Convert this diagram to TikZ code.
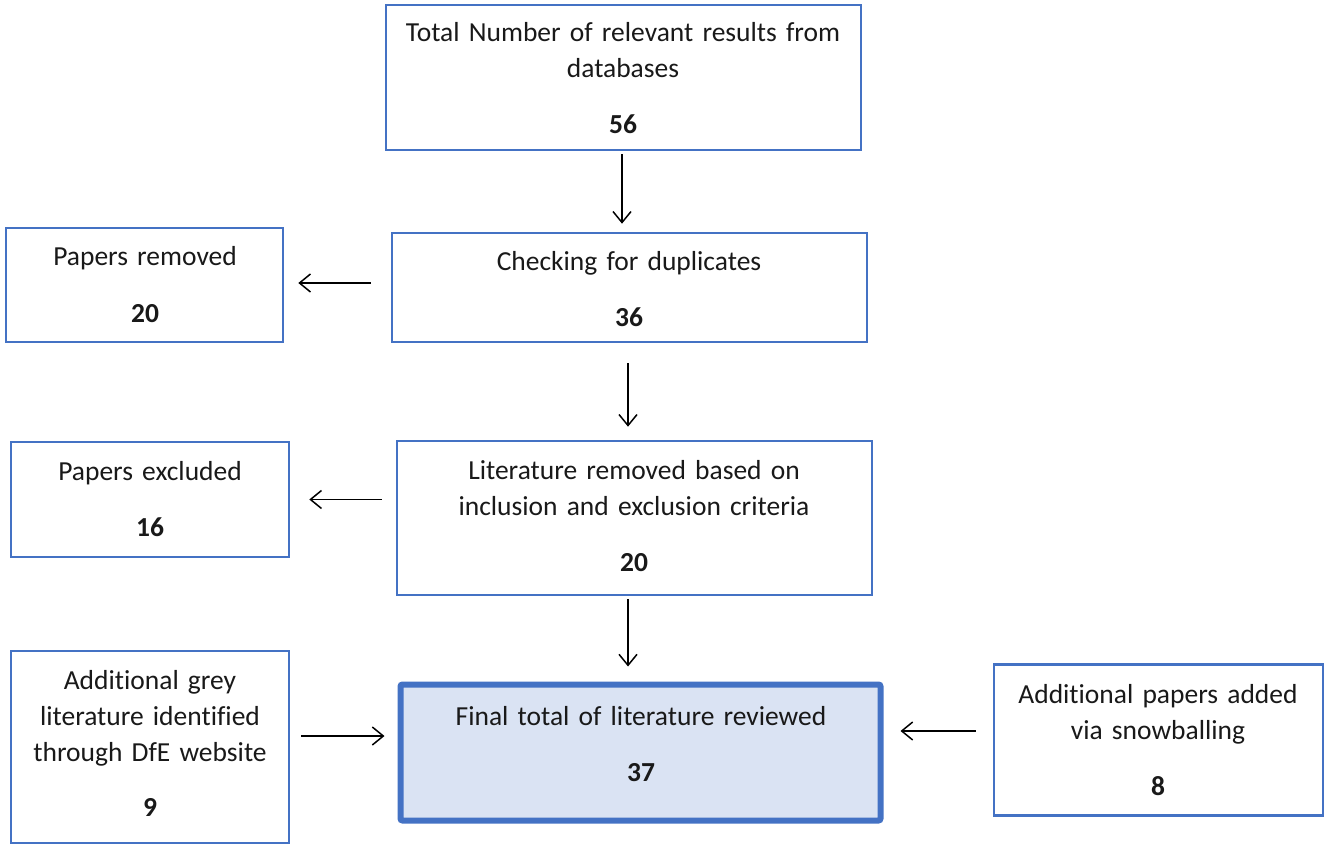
\documentclass[tikz,border=0pt]{standalone}
\usepackage{fontspec}
\setmainfont{Carlito}[Ligatures=NoCommon]
\usetikzlibrary{arrows.meta}
\definecolor{boxblue}{HTML}{4472C4}
\definecolor{boxfill}{HTML}{DAE3F3}
\begin{document}
\begin{tikzpicture}[x=1pt,y=-1pt,
  every node/.style={font=\fontsize{27.5}{36}\selectfont, text=black!90},
  stage/.style={draw=boxblue, line width=2.6pt, rectangle, inner sep=0pt},
  finalbox/.style={draw=boxblue, fill=boxfill, line width=6pt, rectangle, rounded corners=2pt, inner sep=0pt},
  label/.style={align=center, anchor=base, inner sep=0pt},
  arr/.style={line width=1.5pt, -{Straight Barb[length=11pt,width=18pt,line width=1.5pt]}}]
\useasboundingbox (0,0) rectangle (1326,845);

% boxes
\node[stage, minimum width=475pt, minimum height=145pt] (top) at (623.5,77.5) {};
\node[stage, minimum width=475pt, minimum height=109pt] (dup) at (629.5,287.5) {};
\node[stage, minimum width=277pt, minimum height=114pt] (rem) at (144.5,285) {};
\node[stage, minimum width=475pt, minimum height=154pt] (lit) at (634.5,518) {};
\node[stage, minimum width=278pt, minimum height=115pt] (exc) at (150,499.5) {};
\node[stage, minimum width=278pt, minimum height=192pt] (grey) at (150,747) {};
\node[finalbox, minimum width=480pt, minimum height=136pt] (final) at (640.5,752.5) {};
\node[stage, minimum width=329pt, minimum height=151pt] (snow) at (1158.5,740) {};

% texts
\node[label, text width=470pt] (ttop) at (623,42) {Total Number of relevant results from\\databases\\[20pt]\textbf{56}};
\node[label, text width=470pt] (tdup) at (629,271) {Checking for duplicates\\[20pt]\textbf{36}};
\node[label, text width=270pt] (trem) at (145,266) {Papers removed\\[20pt]\textbf{20}};
\node[label, text width=470pt] (tlit) at (634,479) {Literature removed based on\\inclusion and exclusion criteria\\[20pt]\textbf{20}};
\node[label, text width=270pt] (texc) at (150,480) {Papers excluded\\[20pt]\textbf{16}};
\node[label, text width=270pt] (tgrey) at (150,689) {Additional grey\\literature identified\\through DfE website\\[19pt]\textbf{9}};
\node[label, text width=470pt] (tfinal) at (641,725) {Final total of literature reviewed\\[20pt]\textbf{37}};
\node[label, text width=320pt] (tsnow) at (1158,703) {Additional papers added\\via snowballing\\[20pt]\textbf{8}};

% connectors
\draw[arr, shorten <=3pt, shorten >=8pt] ([xshift=-1.5pt]top.south) -- ([xshift=-1.5pt]top.south |- dup.north);
\draw[arr, shorten <=20pt, shorten >=14pt] ([yshift=4.5pt]dup.west) -- ([yshift=4.5pt]dup.west -| rem.east);
\draw[arr, shorten <=20pt, shorten >=13pt] ([xshift=-1.5pt]dup.south) -- ([xshift=-1.5pt]dup.south |- lit.north);
\draw[arr, shorten <=14pt, shorten >=19pt] (lit.west |- exc.east) -- (exc.east);
\draw[arr, shorten <=3pt, shorten >=15pt] ([xshift=-6.5pt]lit.south) -- ([xshift=-6.5pt]lit.south |- final.north);
\draw[arr, shorten <=11pt, shorten >=13pt] ([yshift=11pt]grey.east) -- ([yshift=11pt]grey.east -| final.west);
\draw[arr, shorten <=17pt, shorten >=17pt] ([yshift=9pt]snow.west) -- ([yshift=9pt]snow.west -| final.east);
\end{tikzpicture}
\end{document}
